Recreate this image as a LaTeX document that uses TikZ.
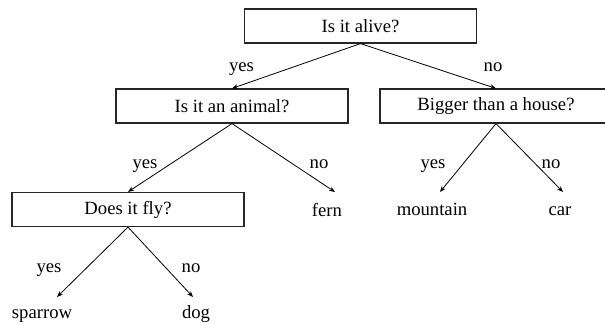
\documentclass[tikz,border=0pt]{standalone}
\usepackage{fontspec}
\setmainfont{Liberation Serif}
\usetikzlibrary{arrows.meta}

\begin{document}
\begin{tikzpicture}
      [x=.75pt,y=-.75pt
      ,font=\fontsize{14}{17}\selectfont
      ,qbox/.style={draw=black!85,line width=.9pt,minimum width=174pt,minimum height=25.5pt,inner sep=0pt}
      ,leaf/.style={anchor=base,inner sep=0pt}
      ,ans/.style={anchor=base,inner sep=0pt}
      ,edge/.style={-{Stealth[length=4.5pt,width=3.5pt]},line width=.6pt}
      ]
        \useasboundingbox (0,0) rectangle (605,324);

        % questions
        \node[qbox] (alive)  at (360.5,26)  {Is it alive?};
        \node[qbox] (animal) at (232,106)   {Is it an animal?};
        \node[qbox] (bigger) at (496,106)   {Bigger than a house?};
        \node[qbox] (fly)    at (128,209.5) {Does it fly?};

        % answers
        \foreach \nm/\x/\y/\txt in {fern/327/216/fern, mountain/432/215/mountain, car/560/215/car, sparrow/42/318/sparrow, dog/196/318/dog}
            \node[leaf] (\nm) at (\x,\y) {\txt};

        \coordinate (fern-tip)     at (335,192);
        \coordinate (mountain-tip) at (440,192);
        \coordinate (car-tip)      at (563,192);
        \coordinate (sparrow-tip)  at (57,297);
        \coordinate (dog-tip)      at (193,297);

        \foreach \a/\b in {alive/animal, alive/bigger, animal/fly}
            \draw[edge] (\a.south) -- (\b.north);

        \foreach \a/\b in {animal/fern-tip, bigger/mountain-tip, bigger/car-tip, fly/sparrow-tip, fly/dog-tip}
            \draw[edge] (\a.south) -- (\b);

        % yes / no
        \foreach \nm/\x/\y/\txt in {ya/241.5/72/yes, na/493/72/no, yb/145/168/yes, nb/319/168/no, yc/433/168/yes, nc/551/168/no, yd/49/272/yes, nd/191/272/no}
            \node[ans] (\nm) at (\x,\y) {\txt};

       \end{tikzpicture}
\end{document}
